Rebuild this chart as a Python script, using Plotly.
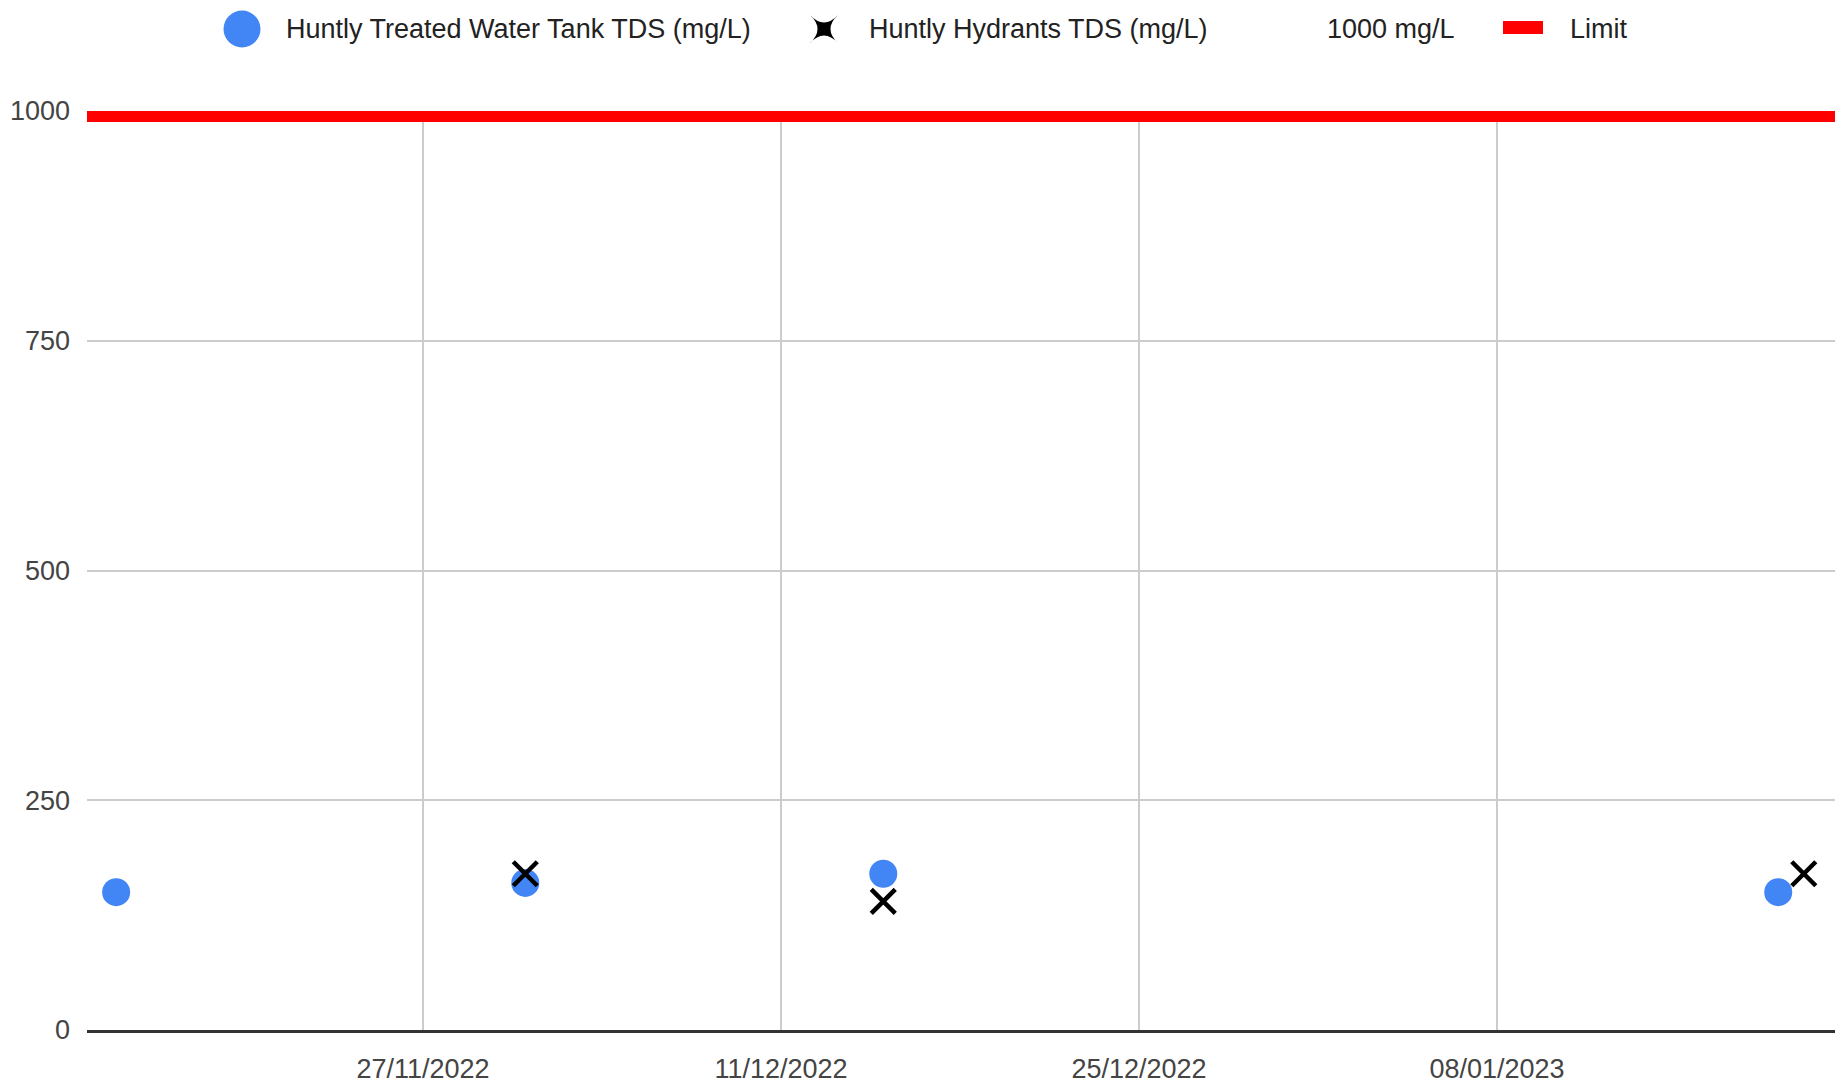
import plotly.graph_objects as go

# ---- data ----
tank_dates = ["2022-11-15", "2022-12-01", "2022-12-15", "2023-01-19"]
tank_tds = [150, 160, 170, 150]
hydrant_dates = ["2022-12-01", "2022-12-15", "2023-01-20"]
hydrant_tds = [170, 140, 170]
limit_value = 995
x_tick_dates = ["2022-11-27", "2022-12-11", "2022-12-25", "2023-01-08"]
x_tick_labels = ["27/11/2022", "11/12/2022", "25/12/2022", "08/01/2023"]
y_tick_values = [0, 250, 500, 750, 1000]
legend_names = ["Huntly Treated Water Tank TDS (mg/L)", "Huntly Hydrants TDS (mg/L)", "1000 mg/L", "Limit"]

W, H = 1841, 1086
L, R, T, B = 87, 1835, 111, 1030
FONT = "Liberation Sans, Arial, sans-serif"
FS = 27
BLUE = "#4285F4"

def px_x(p):
    return (p - L) / (R - L)

def px_y(p):
    return (B - p) / (B - T)

fig = go.Figure()

fig.add_trace(go.Scatter(
    x=tank_dates, y=tank_tds, mode="markers", name=legend_names[0],
    marker=dict(color=BLUE, size=28, line=dict(width=0)), showlegend=False))
fig.add_trace(go.Scatter(
    x=hydrant_dates, y=hydrant_tds, mode="markers", name=legend_names[1],
    marker=dict(color="black", size=24, symbol="x-thin",
                line=dict(width=4.5, color="black")),
    showlegend=False))

fig.add_hline(y=limit_value, line=dict(color="#ff0000", width=13))

# ---- custom legend ----
LEG_Y = 29
# blue circle symbol
fig.add_shape(type="circle", xref="paper", yref="paper",
              xsizemode="pixel", ysizemode="pixel",
              xanchor=px_x(242), yanchor=px_y(LEG_Y),
              x0=-18.5, x1=18.5, y0=-18.5, y1=18.5,
              fillcolor=BLUE, line=dict(width=0))
# black four-point star symbol
star = ("M 14,14 Q -1,0 14,-14 Q 0,1 -14,-14 Q 1,0 -14,14 Q 0,-1 14,14 Z")
fig.add_shape(type="path", xref="paper", yref="paper",
              xsizemode="pixel", ysizemode="pixel",
              xanchor=px_x(824), yanchor=px_y(LEG_Y),
              path=star, fillcolor="black", line=dict(width=0))
# red limit swatch
fig.add_shape(type="rect", xref="paper", yref="paper",
              x0=px_x(1503), x1=px_x(1543), y0=px_y(34), y1=px_y(21),
              fillcolor="#ff0000", line=dict(width=0))

for name, xs in zip(legend_names, [284, 867, 1325, 1568]):
    fig.add_annotation(text=name, x=px_x(xs), y=px_y(LEG_Y), xref="paper", yref="paper",
                       xanchor="left", yanchor="middle", showarrow=False,
                       font=dict(family=FONT, size=FS, color="#222222"))

fig.update_layout(
    width=W, height=H,
    margin=dict(l=L, r=W - R, t=T, b=H - B, pad=0, autoexpand=False),
    paper_bgcolor="white", plot_bgcolor="white",
    showlegend=False,
    font=dict(family=FONT, size=FS, color="#444444"),
    xaxis=dict(
        type="date",
        range=["2022-11-13 20:38", "2023-01-21 05:17"],
        tickvals=x_tick_dates, ticktext=x_tick_labels,
        showgrid=True, gridcolor="#cccccc", gridwidth=2,
        showline=True, linecolor="#333333", linewidth=3,
        ticks="", zeroline=False, automargin=False,
        ticklabelstandoff=13,
        tickfont=dict(family=FONT, size=FS, color="#444444"),
    ),
    yaxis=dict(
        range=[0, 1000],
        tickvals=y_tick_values,
        showgrid=True, gridcolor="#cccccc", gridwidth=2,
        zeroline=False, showline=False, ticks="", automargin=False,
        ticklabelstandoff=16,
        tickfont=dict(family=FONT, size=FS, color="#444444"),
    ),
)

fig.write_html("out.html", config={"displayModeBar": False},
               post_script="document.body.style.margin='0';")
